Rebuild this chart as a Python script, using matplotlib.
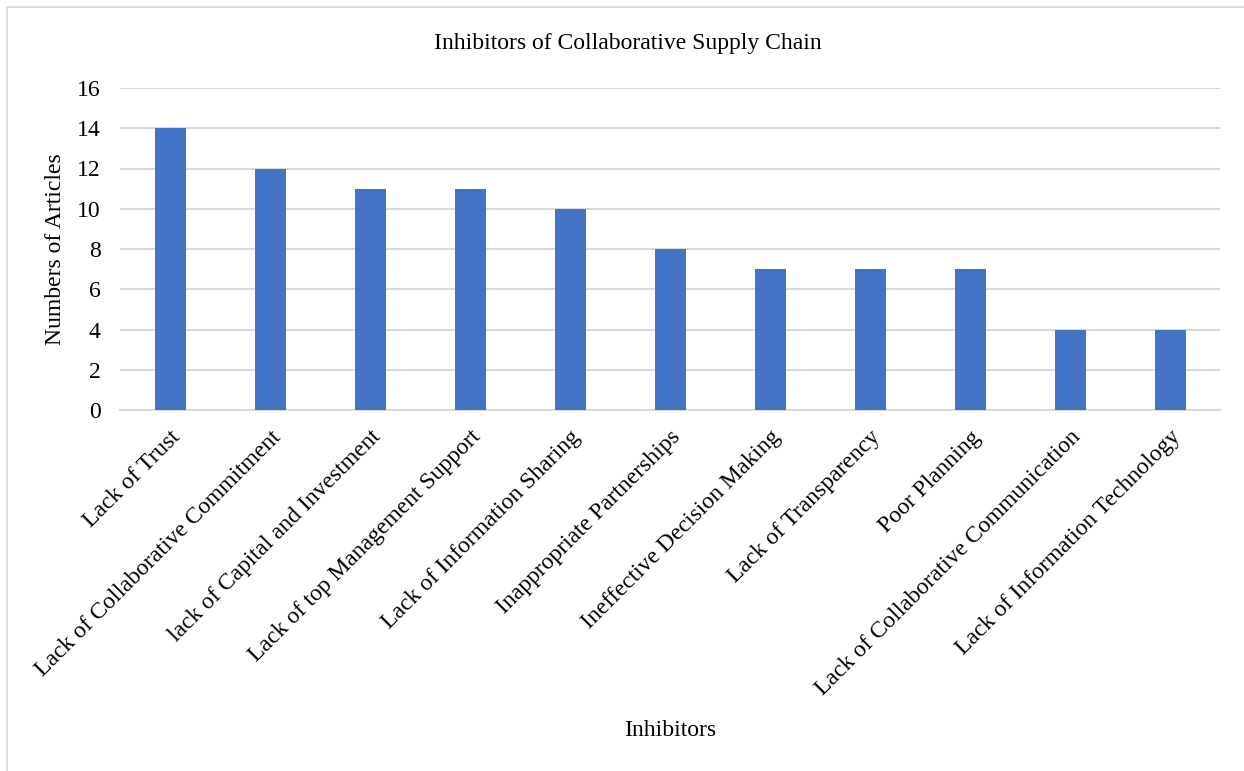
import matplotlib
matplotlib.use("Agg")
import matplotlib.pyplot as plt
from matplotlib.patches import Rectangle

categories = [
    "Lack of Trust",
    "Lack of Collaborative Commitment",
    "lack of Capital and Investment",
    "Lack of top Management Support",
    "Lack of Information Sharing",
    "Inappropriate Partnerships",
    "Ineffective Decision Making",
    "Lack of Transparency",
    "Poor Planning",
    "Lack of Collaborative Communication",
    "Lack of Information Technology",
]
articles = [14, 12, 11, 11, 10, 8, 7, 7, 7, 4, 4]
y_ticks = [0, 2, 4, 6, 8, 10, 12, 14, 16]

plt.rcParams["font.family"] = ["Liberation Serif", "DejaVu Serif"]

fig = plt.figure(figsize=(12.44, 7.71), dpi=100)
fig.patches.append(Rectangle((7 / 1244, -0.1), 1.2, 1.1 - 7 / 771,
                             transform=fig.transFigure, fill=False,
                             edgecolor="#d9d9d9", linewidth=1.2))

ax = fig.add_axes([120 / 1244, 1 - 410 / 771, 1100 / 1244, 322 / 771])
x = range(len(categories))
ax.bar(x, articles, width=0.31, color="#4472C4", zorder=3)

ax.set_xlim(-0.5, len(categories) - 0.5)
ax.set_ylim(0, 16)
ax.set_yticks(y_ticks)
ax.set_yticklabels([str(v) for v in y_ticks], fontsize=17)
ax.yaxis.grid(True, color="#d9d9d9", linewidth=1.5, zorder=0)
ax.set_axisbelow(True)
ax.tick_params(axis="both", length=0)
ax.tick_params(axis="y", pad=14)
for s in ["top", "right", "left"]:
    ax.spines[s].set_visible(False)
ax.spines["bottom"].set_color("#d9d9d9")
ax.spines["bottom"].set_linewidth(1.5)

ax.set_xticks(list(x))
ax.set_xticklabels(categories, rotation=45, ha="right", rotation_mode="anchor",
                   fontsize=17)
ax.tick_params(axis="x", pad=12)

fig.text(628 / 1244, 1 - 43 / 771, "Inhibitors of Collaborative Supply Chain",
         fontsize=17, ha="center", va="center")
ax.set_ylabel("Numbers of Articles", fontsize=17, labelpad=8)
fig.text(670 / 1244, 1 - 730 / 771, "Inhibitors", fontsize=17,
         ha="center", va="center")

fig.savefig("out.png", dpi=100)
